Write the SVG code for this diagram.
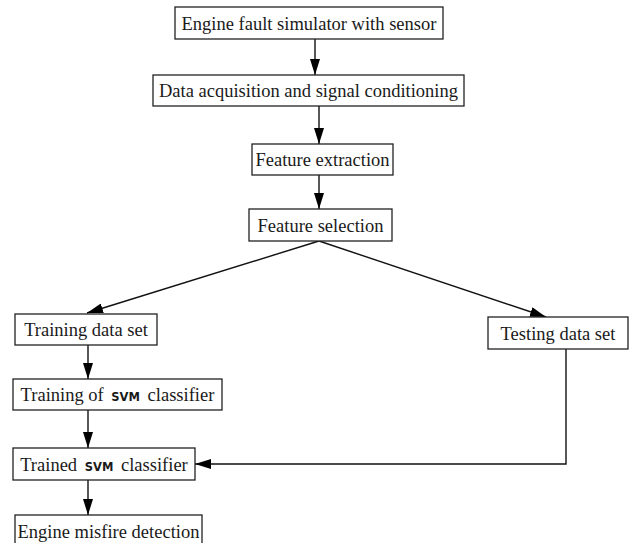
<svg xmlns="http://www.w3.org/2000/svg" width="629" height="543" viewBox="0 0 629 543">
<style>
.box{fill:#fff;stroke:#222;stroke-width:1.3}
.t{font-family:"Liberation Serif","Times New Roman",serif;font-size:18.5px;fill:#1a1a1a}
.s{font-family:"DejaVu Sans",sans-serif;font-weight:bold;font-size:11.5px}
.c{fill:none;stroke:#111;stroke-width:1.4}
</style>
<defs>
<marker id="ah" markerWidth="16" markerHeight="10" refX="16" refY="5" orient="auto" markerUnits="userSpaceOnUse">
<path d="M0,0 L16,5 L0,10 Z" fill="#000"/>
</marker>
</defs>
<rect width="629" height="543" fill="#fff"/>
<g id="connectors">
<line class="c" x1="315" y1="39" x2="315" y2="75" marker-end="url(#ah)"/>
<line class="c" x1="319" y1="106" x2="319" y2="144" marker-end="url(#ah)"/>
<line class="c" x1="319" y1="175" x2="319" y2="209" marker-end="url(#ah)"/>
<line class="c" x1="319" y1="241" x2="87" y2="313" marker-end="url(#ah)"/>
<line class="c" x1="319" y1="241" x2="546" y2="317" marker-end="url(#ah)"/>
<line class="c" x1="88" y1="345" x2="88" y2="379" marker-end="url(#ah)"/>
<line class="c" x1="88" y1="410" x2="88" y2="448" marker-end="url(#ah)"/>
<line class="c" x1="88" y1="480" x2="88" y2="515" marker-end="url(#ah)"/>
<polyline class="c" points="566,349 566,464 195,464" marker-end="url(#ah)"/>
</g>
<g id="n1"><rect class="box" x="175" y="7" width="268" height="32"/><text class="t" x="309" y="30" text-anchor="middle">Engine fault simulator with sensor</text></g>
<g id="n2"><rect class="box" x="153" y="75" width="311" height="31"/><text class="t" x="308.5" y="97" text-anchor="middle">Data acquisition and signal conditioning</text></g>
<g id="n3"><rect class="box" x="252" y="144" width="141" height="31"/><text class="t" x="322.5" y="166" text-anchor="middle">Feature extraction</text></g>
<g id="n4"><rect class="box" x="249" y="209" width="143" height="32"/><text class="t" x="320.5" y="232" text-anchor="middle">Feature selection</text></g>
<g id="n5"><rect class="box" x="15" y="314" width="142" height="31"/><text class="t" x="86" y="336" text-anchor="middle">Training data set</text></g>
<g id="n6"><rect class="box" x="488" y="317" width="140" height="32"/><text class="t" x="558" y="340" text-anchor="middle">Testing data set</text></g>
<g id="n7"><rect class="box" x="13" y="379" width="209" height="31"/><text class="t" x="117.5" y="401" text-anchor="middle">Training of <tspan class="s" dx="3">SVM</tspan><tspan dx="3"> classifier</tspan></text></g>
<g id="n8"><rect class="box" x="13" y="448" width="182" height="32"/><text class="t" x="104" y="471" text-anchor="middle">Trained <tspan class="s" dx="3">SVM</tspan><tspan dx="3"> classifier</tspan></text></g>
<g id="n9"><rect class="box" x="15" y="515" width="187" height="32"/><text class="t" x="108.5" y="538" text-anchor="middle">Engine misfire detection</text></g>
</svg>
